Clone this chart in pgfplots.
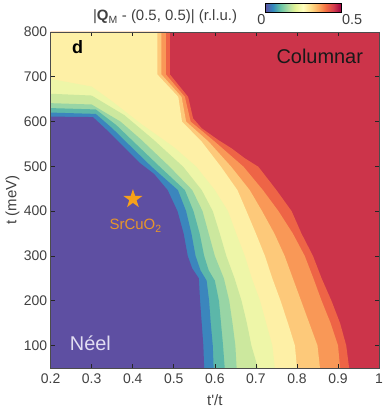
\documentclass[border=0pt]{standalone}
\usepackage{fontspec}
\setmainfont{Liberation Sans}
\usepackage{pgfplots}
\pgfplotsset{compat=1.18}
\definecolor{c0}{HTML}{5E4FA2}
\definecolor{c1}{HTML}{3B86BD}
\definecolor{c2}{HTML}{5CB7A9}
\definecolor{c3}{HTML}{98D5A5}
\definecolor{c4}{HTML}{CCE89E}
\definecolor{c5}{HTML}{EEF6A8}
\definecolor{c6}{HTML}{FEF0A6}
\definecolor{c7}{HTML}{FDC97A}
\definecolor{c8}{HTML}{F99857}
\definecolor{c9}{HTML}{EE6446}
\definecolor{c10}{HTML}{CC344A}
\definecolor{starc}{HTML}{F7A11A}
\definecolor{srtext}{HTML}{E8962A}
\definecolor{labgray}{HTML}{404040}
\pgfdeclareplotmark{fstar}{%
  \pgfpathmoveto{\pgfqpointpolar{90}{\pgfplotmarksize}}%
  \pgfpathlineto{\pgfqpointpolar{126}{0.382\pgfplotmarksize}}%
  \pgfpathlineto{\pgfqpointpolar{162}{\pgfplotmarksize}}%
  \pgfpathlineto{\pgfqpointpolar{198}{0.382\pgfplotmarksize}}%
  \pgfpathlineto{\pgfqpointpolar{234}{\pgfplotmarksize}}%
  \pgfpathlineto{\pgfqpointpolar{270}{0.382\pgfplotmarksize}}%
  \pgfpathlineto{\pgfqpointpolar{306}{\pgfplotmarksize}}%
  \pgfpathlineto{\pgfqpointpolar{342}{0.382\pgfplotmarksize}}%
  \pgfpathlineto{\pgfqpointpolar{18}{\pgfplotmarksize}}%
  \pgfpathlineto{\pgfqpointpolar{54}{0.382\pgfplotmarksize}}%
  \pgfpathclose\pgfusepathqfill}
\begin{document}
\begin{tikzpicture}
\useasboundingbox (-50.6bp,-45bp) rectangle (333.4bp,367.9bp);
\begin{axis}[
  at={(0,0)}, anchor=south west,
  width=328.4bp, height=336bp, scale only axis,
  xmin=0.2, xmax=1, ymin=50, ymax=800,
  xtick={0.2,0.3,0.4,0.5,0.6,0.7,0.8,0.9,1},
  ytick={100,200,300,400,500,600,700,800},
  tick align=inside, major tick length=4bp,
  tick style={black!85, line width=0.6bp},
  axis line style={black!70, line width=0.8bp},
  axis on top, clip=false,
  /pgf/number format/assume math mode=true,
  ticklabel style={font=\fontsize{14}{16}\selectfont, text=labgray},
  xticklabel style={yshift=-2bp},
  xlabel={t\textquotesingle/t}, ylabel={t (meV)},
  label style={font=\fontsize{15}{18}\selectfont, text=labgray},
  xlabel style={at={(axis description cs:0.5,-0.0952)}, anchor=center},
  ylabel style={at={(axis description cs:-0.1157,0.5)}, anchor=center},
  colormap={spectralr}{rgb255=(94,79,162) rgb255=(50,136,189) rgb255=(102,194,165) rgb255=(171,221,164) rgb255=(230,245,152) rgb255=(255,255,191) rgb255=(254,224,139) rgb255=(253,174,97) rgb255=(244,109,67) rgb255=(213,62,79) rgb255=(158,1,66)},
  point meta min=0, point meta max=0.5,
  colorbar horizontal,
  colorbar style={at={(0.7686,1.0726)}, anchor=center, width=76bp, height=9bp,
    xtick=\empty, xticklabels={}, axis line style={black, line width=0.6bp}},
]
% background: largest values (red)
\addplot[fill=c10, draw=none, forget plot] coordinates {(0.2,50)(1,50)(1,800)(0.2,800)} -- cycle;
% boundary 10: rorange/red
\addplot[fill=c9, draw=none, forget plot] coordinates {(0.927,50)(0.92,100)(0.905,150)(0.884,200)(0.86,250)(0.839,300)(0.811,350)(0.787,400)(0.75,447)(0.706,499)(0.673,518)(0.641,540)(0.608,559)(0.568,585)(0.547,607)(0.535,655)(0.4906,705)(0.4906,800)(0.2,800)(0.2,50)} -- cycle;
% boundary 9: orange/rorange
\addplot[fill=c8, draw=none, forget plot] coordinates {(0.905,50)(0.90,100)(0.882,150)(0.86,200)(0.84,250)(0.819,300)(0.79,350)(0.755,400)(0.717,447)(0.67,499)(0.60,555)(0.541,600)(0.527,655)(0.481,705)(0.481,800)(0.2,800)(0.2,50)} -- cycle;
% boundary 8: lorange/orange
\addplot[fill=c7, draw=none, forget plot] coordinates {(0.856,50)(0.85,100)(0.83,150)(0.81,200)(0.79,250)(0.77,300)(0.745,350)(0.715,400)(0.685,447)(0.64,499)(0.585,555)(0.53,600)(0.519,655)(0.47,705)(0.47,800)(0.2,800)(0.2,50)} -- cycle;
% boundary 7: pyellow/lorange
\addplot[fill=c6, draw=none, forget plot] coordinates {(0.80,50)(0.795,100)(0.778,150)(0.76,200)(0.74,250)(0.722,300)(0.70,350)(0.677,400)(0.655,447)(0.615,499)(0.568,555)(0.52,600)(0.511,655)(0.46,705)(0.46,800)(0.2,800)(0.2,50)} -- cycle;
% boundary 6: pgreen/pyellow
\addplot[fill=c5, draw=none, forget plot] coordinates {(0.746,50)(0.74,100)(0.725,150)(0.71,200)(0.69,250)(0.673,300)(0.652,350)(0.632,400)(0.60,447)(0.555,499)(0.50,543)(0.42,595)(0.35,645)(0.30,678)(0.2,695)(0.2,50)} -- cycle;
% boundary 5: lgreen/pgreen
\addplot[fill=c4, draw=none, forget plot] coordinates {(0.705,50)(0.689,100)(0.678,150)(0.665,200)(0.648,250)(0.628,300)(0.612,350)(0.595,400)(0.568,447)(0.523,499)(0.45,560)(0.38,614)(0.30,658)(0.2,662)(0.2,50)} -- cycle;
% boundary 4: green/lgreen
\addplot[fill=c3, draw=none, forget plot] coordinates {(0.653,50)(0.65,100)(0.643,150)(0.635,200)(0.622,250)(0.60,300)(0.585,350)(0.57,400)(0.545,447)(0.49,499)(0.42,560)(0.37,600)(0.30,638)(0.2,641)(0.2,50)} -- cycle;
% boundary 3: teal/green
\addplot[fill=c2, draw=none, forget plot] coordinates {(0.624,50)(0.62,100)(0.615,150)(0.61,200)(0.60,245)(0.585,268)(0.574,300)(0.563,350)(0.548,400)(0.527,447)(0.466,499)(0.41,548)(0.36,592)(0.31,627)(0.2,630)(0.2,50)} -- cycle;
% boundary 2: blue/teal
\addplot[fill=c1, draw=none, forget plot] coordinates {(0.597,50)(0.595,100)(0.59,150)(0.586,200)(0.58,245)(0.565,268)(0.553,300)(0.543,350)(0.53,400)(0.51,447)(0.446,499)(0.40,540)(0.35,585)(0.31,617)(0.2,620)(0.2,50)} -- cycle;
% boundary 1: purple/blue
\addplot[fill=c0, draw=none, forget plot] coordinates {(0.574,50)(0.572,100)(0.568,150)(0.564,200)(0.561,250)(0.545,272)(0.534,300)(0.524,350)(0.509,400)(0.485,447)(0.452,483)(0.418,507)(0.386,536)(0.337,581)(0.303,610)(0.2,611)(0.2,50)} -- cycle;
% SrCuO2 marker
\addplot[only marks, mark=fstar, mark size=10bp, color=starc, forget plot] coordinates {(0.4005,427)};
\node[font=\fontsize{15}{18}\selectfont, text=srtext] at (axis cs:0.407,367) {SrCuO\textsubscript{2}};
\node[font=\fontsize{20}{24}\selectfont, text=black!90] at (axis cs:0.8555,746) {Columnar};
\node[font=\fontsize{20}{24}\selectfont, text={rgb,255:red,226;green,222;blue,242}] at (axis cs:0.297,106) {N\'eel};
\node[font=\fontsize{18}{22}\selectfont\bfseries, text=black] at (axis cs:0.2655,766) {d};
\node[font=\fontsize{15}{18}\selectfont, text=labgray] at (rel axis cs:0.3484,1.0443) {|\textbf{Q}\textsubscript{M} - (0.5, 0.5)| (r.l.u.)};
\node[font=\fontsize{14.5}{16}\selectfont, text=labgray] at (rel axis cs:0.6419,1.0354) {0};
\node[font=\fontsize{14.5}{16}\selectfont, text=labgray] at (rel axis cs:0.9178,1.0354) {0.5};
\end{axis}
\end{tikzpicture}
\end{document}
